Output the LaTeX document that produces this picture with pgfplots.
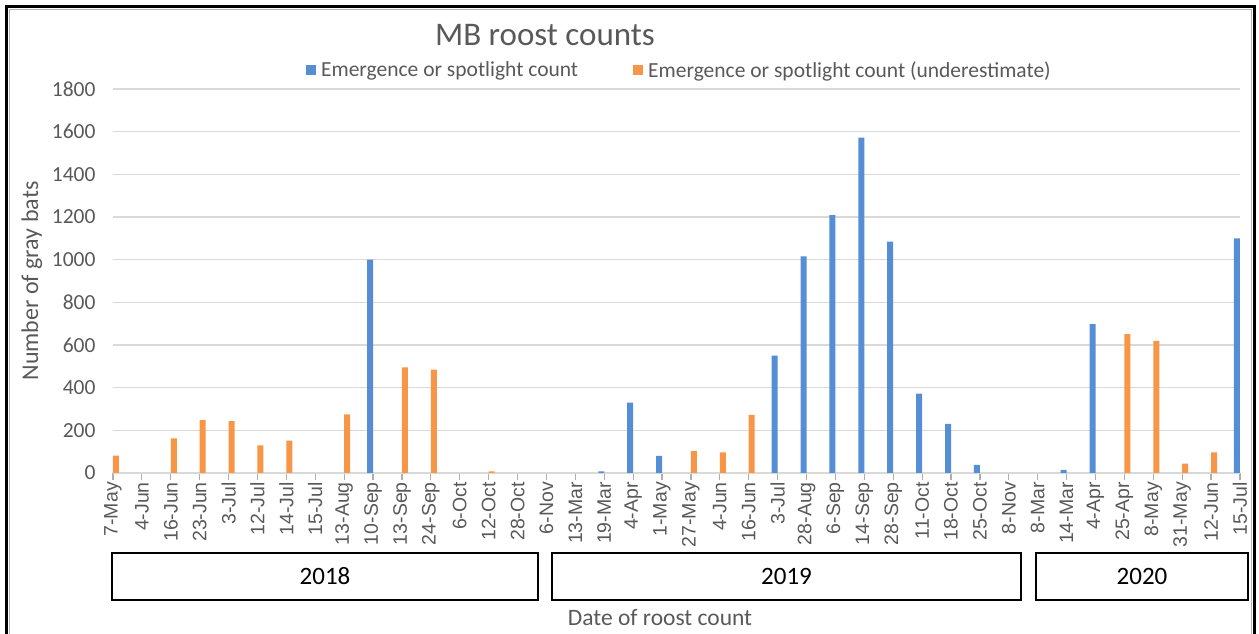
\documentclass[border=0pt]{standalone}
\usepackage{fontspec}
\setmainfont{Carlito}
\newfontfamily\arialfont{Liberation Sans}
\usepackage{pgfplots}
\usepackage{pgfplotstable}
\pgfplotsset{compat=1.18}
\definecolor{txtgray}{HTML}{595959}
\definecolor{gridgray}{HTML}{D9D9D9}
\definecolor{barblue}{HTML}{558ED5}
\definecolor{barorange}{HTML}{F79646}

% roost counts; nan = no count of that kind on that date
\pgfplotstableread{
idx date   blue orange
0  7-May   nan  82
1  4-Jun   nan  nan
2  16-Jun  nan  162
3  23-Jun  nan  248
4  3-Jul   nan  243
5  12-Jul  nan  130
6  14-Jul  nan  152
7  15-Jul  nan  nan
8  13-Aug  nan  275
9  10-Sep  1000 nan
10 13-Sep  nan  495
11 24-Sep  nan  484
12 6-Oct   nan  nan
13 12-Oct  nan  8
14 28-Oct  nan  nan
15 6-Nov   nan  nan
16 13-Mar  nan  nan
17 19-Mar  8    nan
18 4-Apr   330  nan
19 1-May   80   nan
20 27-May  nan  102
21 4-Jun   nan  97
22 16-Jun  nan  272
23 3-Jul   550  nan
24 28-Aug  1015 nan
25 6-Sep   1209 nan
26 14-Sep  1572 nan
27 28-Sep  1085 nan
28 11-Oct  372  nan
29 18-Oct  230  nan
30 25-Oct  38   nan
31 8-Nov   nan  nan
32 8-Mar   nan  nan
33 14-Mar  15   nan
34 4-Apr   698  nan
35 25-Apr  nan  651
36 8-May   nan  619
37 31-May  nan  44
38 12-Jun  nan  97
39 15-Jul  1100 nan
}\roost

\begin{document}
\begin{tikzpicture}
\useasboundingbox (-113pt,-161pt) rectangle (1146pt,473pt);
\begin{axis}[
    at={(0pt,0pt)}, anchor=south west,
    scale only axis, width=1127pt, height=384pt,
    ybar=0pt, bar width=6pt,
    xmin=0, xmax=39, ymin=0, ymax=1800,
    xtick={0,...,39},
    xticklabels from table={\roost}{date},
    ytick={0,200,...,1800},
    ymajorgrids, grid style={gridgray, line width=1.5pt},
    axis x line*=bottom, axis y line*=left,
    x axis line style={gridgray, line width=1.5pt},
    y axis line style={draw=none},
    ytick style={draw=none},
    xtick style={draw=gridgray!80!black, line width=1.2pt},
    tick align=outside, major tick length=7pt,
    xticklabel style={rotate=90, anchor=east, font=\arialfont\fontsize{19.5}{20}\selectfont, text=txtgray, inner sep=2pt},
    yticklabel style={font=\fontsize{21.5}{24}\selectfont, text=txtgray, xshift=-7pt},
    /pgf/number format/assume math mode=true,
    /pgf/number format/1000 sep={},
    ylabel={Number of gray bats},
    ylabel style={at={(axis description cs:-0.0719,0.5)}, anchor=center, rotate=0, font=\fontsize{24}{26}\selectfont, text=txtgray},
    xlabel={Date of roost count},
    xlabel style={at={(axis description cs:0.4854,-0.3776)}, anchor=center, font=\fontsize{23.5}{26}\selectfont, text=txtgray},
    title={MB roost counts},
    title style={at={(axis description cs:0.3833,1.125)}, anchor=center, font=\fontsize{33}{36}\selectfont, text=txtgray},
    legend columns=2,
    legend image code/.code={\draw[#1, draw=none] (0pt,-5pt) rectangle (10pt,5pt);},
    legend style={at={(axis description cs:0.1685,1.0495)}, anchor=west, draw=none, fill=none,
        font=\fontsize{21.5}{24}\selectfont, text=txtgray,
        /tikz/every odd column/.append style={column sep=3pt},
        /tikz/every even column/.append style={column sep=53pt}},
]
\addplot+[fill=barblue, draw=none] table[x=idx, y=blue] {\roost};
\addplot+[fill=barorange, draw=none] table[x=idx, y=orange] {\roost};
\legend{Emergence or spotlight count, Emergence or spotlight count (underestimate)}
\end{axis}
% year boxes under the date labels
\begin{scope}[line width=2pt, font=\fontsize{25}{28}\selectfont]
\draw (-1pt,-80pt) rectangle node {2018} (425pt,-127pt);
\draw (439pt,-80pt) rectangle node {2019} (908pt,-127pt);
\draw (923pt,-80pt) rectangle node {2020} (1135pt,-127pt);
\end{scope}
% chart frame
\draw[line width=3pt] (-106pt,-170pt) -- (-106pt,466pt) -- (1141pt,466pt) -- (1141pt,-170pt);
\draw[gray!60, line width=1pt] (-103.5pt,-170pt) -- (-103.5pt,463.5pt) -- (1138.5pt,463.5pt) -- (1138.5pt,-170pt);
\end{tikzpicture}
\end{document}
